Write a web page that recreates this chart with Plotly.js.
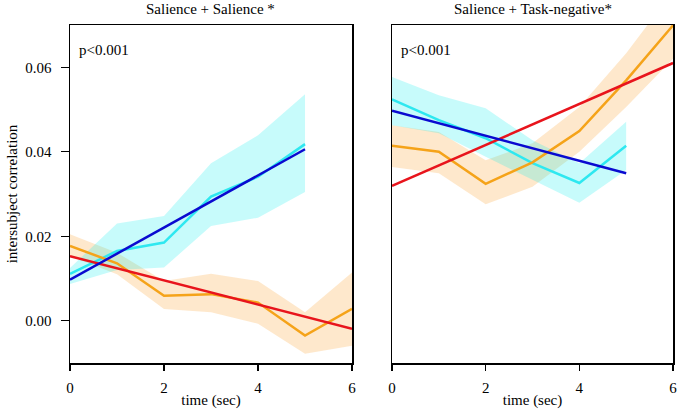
<!DOCTYPE html>
<html><head><meta charset="utf-8">
<script src="https://cdn.plot.ly/plotly-3.0.1.min.js"></script>
<style>html,body{margin:0;padding:0;background:#fff;}</style>
</head><body><div id="chart" style="width:679px;height:412px;"></div>
<script>
// Left panel: Salience + Salience
const timeA = [0, 1, 2, 3, 4, 5];
const timeB = [0, 1, 2, 3, 4, 5, 6];
const fitCyanX = [0, 5];
const fitOrangeX = [0, 6];

const L_cyan = [0.0111, 0.0165, 0.0185, 0.0294, 0.0341, 0.0418];
const L_cyanUp = [0.0125, 0.023, 0.0248, 0.0373, 0.0439, 0.0536];
const L_cyanLo = [0.0087, 0.012, 0.0126, 0.0224, 0.0244, 0.0305];
const L_blueFit = [0.0097, 0.0406];
const L_orange = [0.0177, 0.0136, 0.0059, 0.0063, 0.0043, -0.0035, 0.0028];
const L_orangeUp = [0.0205, 0.0161, 0.0094, 0.0111, 0.0094, 0.002, 0.0114];
const L_orangeLo = [0.0153, 0.011, 0.0028, 0.002, -0.0007, -0.0078, -0.0059];
const L_redFit = [0.0153, -0.0019];

// Right panel: Salience + Task-negative
const R_cyan = [0.0524, 0.0475, 0.0432, 0.0373, 0.0326, 0.0414];
const R_cyanUp = [0.0577, 0.0534, 0.0503, 0.0427, 0.0373, 0.0471];
const R_cyanLo = [0.0463, 0.0444, 0.0388, 0.0333, 0.0279, 0.0357];
const R_blueFit = [0.0497, 0.0349];
const R_orange = [0.0414, 0.040, 0.0324, 0.0375, 0.0449, 0.0569, 0.0699];
const R_orangeUp = [0.0463, 0.0447, 0.038, 0.042, 0.0506, 0.0633, 0.078];
const R_orangeLo = [0.0364, 0.0349, 0.0276, 0.0317, 0.040, 0.0506, 0.062];
const R_redFit = [0.0319, 0.061];

const xTicks = [0, 2, 4, 6];
const yTicks = [0.00, 0.02, 0.04, 0.06];
const yTickText = ['0.00', '0.02', '0.04', '0.06'];

const cCyan = '#2ee8f0', cCyanBand = 'rgba(0,235,235,0.22)';
const cOrange = '#f5a319', cOrangeBand = 'rgba(250,160,40,0.24)';
const cBlue = '#0a0ad0', cRed = '#e8141c';

function band(x, lo, up, color, xa, ya) {
  return [
    {x: x, y: lo, mode: 'lines', line: {width: 0}, hoverinfo: 'skip', xaxis: xa, yaxis: ya, showlegend: false},
    {x: x, y: up, mode: 'lines', line: {width: 0}, fill: 'tonexty', fillcolor: color, hoverinfo: 'skip', xaxis: xa, yaxis: ya, showlegend: false}
  ];
}
function line(x, y, color, xa, ya) {
  return {x: x, y: y, mode: 'lines', line: {color: color, width: 2.5}, xaxis: xa, yaxis: ya, showlegend: false};
}

const data = [].concat(
  band(timeB, L_orangeLo, L_orangeUp, cOrangeBand, 'x', 'y'),
  band(timeA, L_cyanLo, L_cyanUp, cCyanBand, 'x', 'y'),
  [line(timeA, L_cyan, cCyan, 'x', 'y'),
   line(timeB, L_orange, cOrange, 'x', 'y'),
   line(fitOrangeX, L_redFit, cRed, 'x', 'y'),
   line(fitCyanX, L_blueFit, cBlue, 'x', 'y')],
  band(timeB, R_orangeLo, R_orangeUp, cOrangeBand, 'x2', 'y2'),
  band(timeA, R_cyanLo, R_cyanUp, cCyanBand, 'x2', 'y2'),
  [line(timeA, R_cyan, cCyan, 'x2', 'y2'),
   line(timeB, R_orange, cOrange, 'x2', 'y2'),
   line(fitOrangeX, R_redFit, cRed, 'x2', 'y2'),
   line(fitCyanX, R_blueFit, cBlue, 'x2', 'y2')]
);

const font = {family: 'Liberation Serif, Times New Roman, serif', size: 15, color: '#000'};
const xBase = {range: [0, 6], tickvals: xTicks, ticks: 'outside', ticklen: 6, tickwidth: 1.2, tickcolor: '#000',
  ticklabelstandoff: 4,
  showline: true, linecolor: '#000', linewidth: 1.5, mirror: true, showgrid: false, zeroline: false,
  title: {text: 'time (sec)', font: font, standoff: 0}, tickfont: font};
const yBase = {range: [-0.01, 0.07], showline: true, linecolor: '#000', linewidth: 1.5, mirror: true,
  showgrid: false, zeroline: false, tickfont: font};

const layout = {
  width: 679, height: 412,
  margin: {l: 70, r: 6, t: 25, b: 49},
  paper_bgcolor: '#fff', plot_bgcolor: '#fff',
  font: font,
  xaxis: Object.assign({}, xBase, {domain: [0, 0.4677], anchor: 'y'}),
  yaxis: Object.assign({}, yBase, {domain: [0, 1], anchor: 'x', tickvals: yTicks, ticktext: yTickText,
    ticks: 'outside', ticklen: 8, tickwidth: 1.2, tickcolor: '#000', ticklabelstandoff: 6,
    title: {text: 'intersubject correlation', font: font, standoff: 4}}),
  xaxis2: Object.assign({}, xBase, {domain: [0.534, 1], anchor: 'y2'}),
  yaxis2: Object.assign({}, yBase, {domain: [0, 1], anchor: 'x2', showticklabels: false, ticks: ''}),
  annotations: [
    {text: 'Salience + Salience *', xref: 'paper', yref: 'paper', x: 0.2338, y: 1, yshift: 16, showarrow: false, font: font, xanchor: 'center', yanchor: 'middle'},
    {text: 'Salience + Task-negative*', xref: 'paper', yref: 'paper', x: 0.767, y: 1, yshift: 16, showarrow: false, font: font, xanchor: 'center', yanchor: 'middle'},
    {text: 'p<0.001', xref: 'x domain', yref: 'y domain', x: 0.025, y: 0.925, showarrow: false, font: font, xanchor: 'left', yanchor: 'middle'},
    {text: 'p<0.001', xref: 'x2 domain', yref: 'y2 domain', x: 0.025, y: 0.925, showarrow: false, font: font, xanchor: 'left', yanchor: 'middle'}
  ]
};

Plotly.newPlot('chart', data, layout, {displayModeBar: false, staticPlot: true});
</script>
</body></html>
